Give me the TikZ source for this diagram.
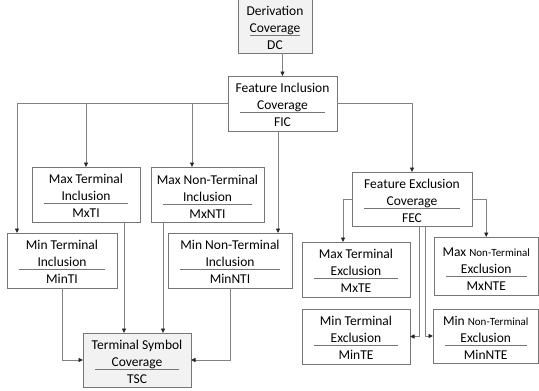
\documentclass[tikz,border=0pt]{standalone}
\usepackage{fontspec}
\setmainfont{Carlito}
\usetikzlibrary{arrows.meta}
\definecolor{boxline}{RGB}{118,118,118}
\definecolor{connline}{RGB}{130,130,130}
\definecolor{boxfill}{RGB}{242,242,242}
\tikzset{
  boxst/.style={draw=boxline, line width=0.9pt, inner sep=0pt, outer sep=0pt, fill=white},
  gboxst/.style={boxst, fill=boxfill},
  txt/.style={inner sep=0pt, font=\fontsize{13.5}{16}\selectfont, text=black},
  divst/.style={draw=boxline, line width=0.8pt},
  conn/.style={draw=connline, line width=0.8pt, -{Triangle[length=4.5pt,width=4pt,color=black!85]}}
}
\newcommand\smallnt{\fontsize{11}{13}\selectfont}
% #1 style, #2 name, #3 x1, #4 y1, #5 x2, #6 y2, #7 line1 y, #8 line1, #9 line2 ; abbreviation given via \abbr
\newcommand\cbox[9]{%
  \node[#1, minimum width={#5-#3}, minimum height={#6-#4}] (#2) at ({(#3+#5)/2},{(#4+#6)/2}) {};
  \node[txt, anchor=base] (#2-l1) at ({(#3+#5)/2},{#7+4.5}) {#8};
  \node[txt, anchor=base] (#2-l2) at ({(#3+#5)/2},{#7+21}) {#9};
  \draw[divst] ({#3+12},{#7+24.5}) -- ({#5-12},{#7+24.5});
  \node[txt, anchor=base] (#2-ab) at ({(#3+#5)/2},{#7+38.5}) {\abbr};
}
\begin{document}
\begin{tikzpicture}[x=1pt,y=-1pt]
\useasboundingbox (0,0) rectangle (539,391);
\def\abbr{DC}\cbox{gboxst}{DC}{238}{-3}{312}{53}{11}{Derivation}{Coverage}
\def\abbr{FIC}\cbox{boxst}{FIC}{228}{76}{337}{131}{88}{Feature Inclusion}{Coverage}
\def\abbr{MxTI}\cbox{boxst}{MxTI}{32}{167}{140}{222}{179}{Max Terminal}{Inclusion}
\def\abbr{MxNTI}\cbox{boxst}{MxNTI}{151}{167}{264}{222}{180}{Max Non-Terminal}{Inclusion}
\def\abbr{MinTI}\cbox{boxst}{MinTI}{7}{233}{117}{288}{245}{Min Terminal}{Inclusion}
\def\abbr{MinNTI}\cbox{boxst}{MinNTI}{168}{233}{292}{288}{245}{Min Non-Terminal}{Inclusion}
\def\abbr{TSC}\cbox{gboxst}{TSC}{83}{333}{191}{387}{345}{Terminal Symbol}{Coverage}
\def\abbr{FEC}\cbox{boxst}{FEC}{352}{172}{472}{226}{184}{Feature Exclusion}{Coverage}
\def\abbr{MxTE}\cbox{boxst}{MxTE}{302}{242}{410}{297}{254}{Max Terminal}{Exclusion}
\def\abbr{MxNTE}\cbox{boxst}{MxNTE}{434}{237}{538.5}{295}{252}{Max {\smallnt Non-Terminal}}{Exclusion}
\def\abbr{MinTE}\cbox{boxst}{MinTE}{302}{309}{410}{364}{321}{Min Terminal}{Exclusion}
\def\abbr{MinNTE}\cbox{boxst}{MinNTE}{433}{309}{538.5}{363}{321}{Min {\smallnt Non-Terminal}}{Exclusion}
% x-positions of connector legs
\coordinate (xL) at (17,0);
\coordinate (xA) at (86,0);
\coordinate (xB) at (192,0);
\coordinate (xC) at (278,0);
\coordinate (xD) at (124,0);
\coordinate (xE) at (163,0);
\coordinate (xF) at (343,0);
\coordinate (xG) at (419,0);
\coordinate (xH) at (425,0);
% connectors
\draw[conn] (FIC.north |- DC.south) -- (FIC.north);
\draw[conn] (FIC.west) -| (xL |- MinTI.north);
\draw[conn] (xA |- FIC.west) -- (xA |- MxTI.north);
\draw[conn] (xB |- FIC.west) -- (xB |- MxNTI.north);
\draw[conn] (xC |- FIC.south) -- (xC |- MinNTI.north);
\draw[conn] (FIC.east) -| (FEC.north);
\draw[conn] (MinTI.south) |- (TSC.west);
\draw[conn] (xD |- MxTI.south) -- (xD |- TSC.north);
\draw[conn] (xE |- MxNTI.south) -- (xE |- TSC.north);
\draw[conn] (MinNTI.south) |- (TSC.east);
\draw[conn] (FEC.west) -| (xF |- MxTE.north);
\draw[conn] (FEC.east) -| (MxNTE.north);
\draw[conn] (xG |- FEC.south) |- (MinTE.east);
\draw[conn] (xH |- FEC.south) |- (MinNTE.west);
\end{tikzpicture}
\end{document}
